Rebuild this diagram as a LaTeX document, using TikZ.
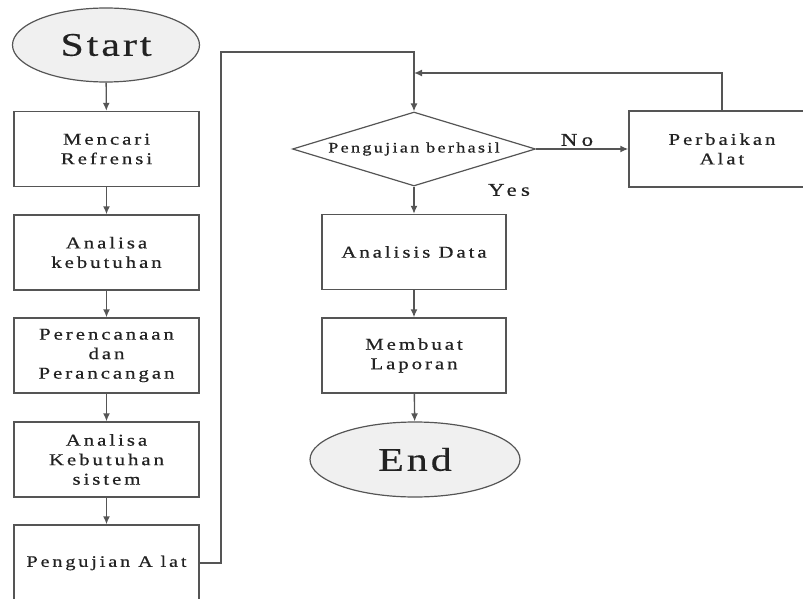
\documentclass[tikz,border=0pt]{standalone}
\usepackage{fontspec}
\setmainfont{Liberation Serif}
\newfontfamily\boxfont{Liberation Serif}[FakeStretch=1.26,LetterSpace=18,FakeBold=0.6]
\newfontfamily\lblfont{Liberation Serif}[FakeStretch=1.27,LetterSpace=24,FakeBold=0.6]
\newfontfamily\diafont{Liberation Serif}[FakeStretch=1.25,LetterSpace=16,FakeBold=0.6]
\newfontfamily\bigfont{Liberation Serif}[FakeStretch=1.27,LetterSpace=9,FakeBold=0.4]
\usetikzlibrary{shapes.geometric,arrows.meta}
\definecolor{linec}{HTML}{555555}
\definecolor{txtc}{HTML}{222222}
\definecolor{ellfill}{HTML}{F0F0F0}
\tikzset{
  procbox/.style={draw=linec, line width=1.4pt, fill=white, minimum width=185pt, minimum height=75pt, inner sep=0pt, align=center, text=txtc, font=\boxfont\fontsize{16.5}{19.5}\selectfont},
  termell/.style={draw=linec, line width=1.2pt, fill=ellfill, ellipse, inner sep=0pt, text=txtc, font=\bigfont\fontsize{33}{36}\selectfont},
  decis/.style={draw=linec, line width=1.2pt, fill=white, diamond, aspect=3.3, inner sep=0pt, minimum width=243pt, minimum height=74pt, text=txtc, font=\diafont\fontsize{14.5}{17}\selectfont},
  conn/.style={draw=linec, line width=1.4pt},
  arr/.style={conn, -{Latex[length=8pt,width=7pt]}},
  lbl/.style={text=txtc, font=\lblfont\fontsize{18}{20}\selectfont, inner sep=0pt}
}
\begin{document}
\begin{tikzpicture}[x=1pt,y=-1pt]
\useasboundingbox (0,0) rectangle (803,599);
% left column
\node[termell, minimum width=187pt, minimum height=74pt] (start) at (106,45) {Start};
\node[procbox] (b1) at (106.5,149) {Mencari\\Refrensi};
\node[procbox] (b2) at (106.5,252.5) {Analisa\\kebutuhan};
\node[procbox] (b3) at (106.5,355.5) {Perencanaan\\dan\\Perancangan};
\node[procbox] (b4) at (106.5,459.5) {Analisa\\Kebutuhan\\sistem};
\node[procbox, minimum height=76pt, font=\boxfont\fontsize{16}{19}\selectfont] (b5) at (106.5,563) {Pengujian A lat};
% right column
\node[decis] (d) at (414,149) {Pengujian berhasil};
\node[procbox, minimum width=184pt] (ad) at (414,252) {Analisis Data};
\node[procbox, minimum width=184pt] (ml) at (414,355.5) {Membuat\\Laporan};
\node[termell, minimum width=210pt, minimum height=75pt] (end) at (415,459.5) {End};
\node[procbox, minimum width=186pt, minimum height=76pt] (pa) at (722,149) {Perbaikan\\Alat};
% labels
\node[lbl] (yes) at (509,190) {Yes};
\node[lbl] (no) at (577,140) {No};
% helper coordinates
\coordinate (c1) at (221,563);
\coordinate (c2) at (221,52);
\coordinate (c3) at (414,52);
\coordinate (c4) at (722,73);
\coordinate (c5) at (414,73);
% connectors
\draw[arr] (start) -- (b1);
\draw[arr] (b1) -- (b2);
\draw[arr] (b2) -- (b3);
\draw[arr] (b3) -- (b4);
\draw[arr] (b4) -- (b5);
\draw[arr] (b5.east |- c1) -- (c1) -- (c2) -- (c3) -- (d.north);
\draw[arr] (d.east) -- (pa.west);
\draw[arr] (pa.north) -- (c4) -- (c5);
\draw[arr] (d.south) -- (ad.north);
\draw[arr] (ad) -- (ml);
\draw[arr] (ml) -- (end);
\end{tikzpicture}
\end{document}
